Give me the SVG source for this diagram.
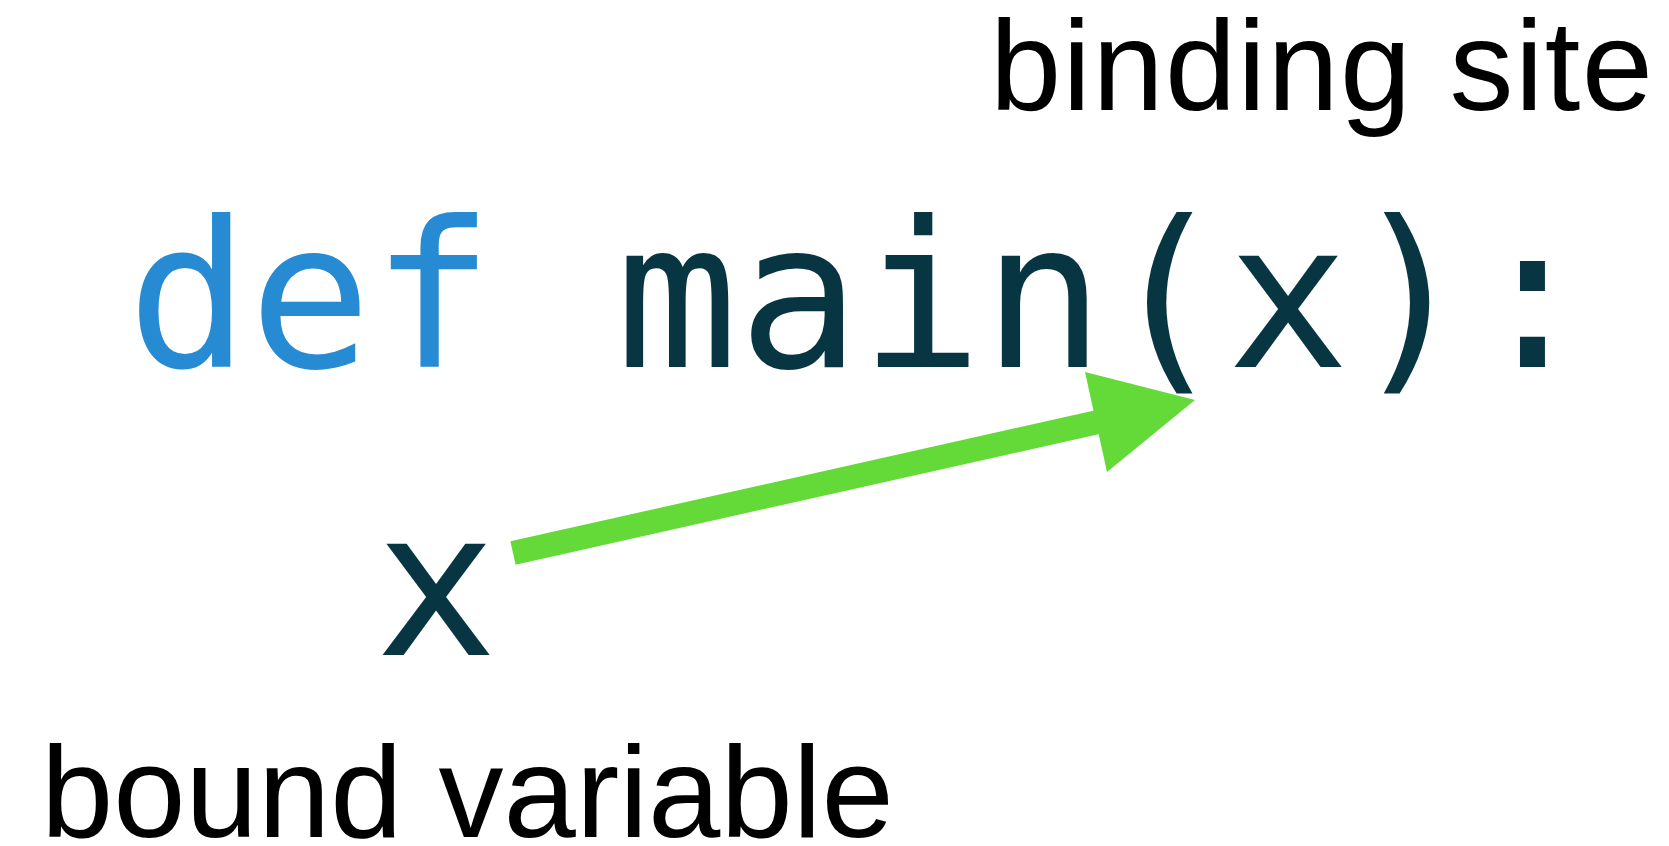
<svg xmlns="http://www.w3.org/2000/svg" width="1669" height="846" viewBox="0 0 1669 846">
<style>
.code{font-family:"DejaVu Sans Mono","Liberation Mono",monospace;font-size:203px;fill:#073642}
.kw{fill:#268BD2}
.label{font-family:"Liberation Sans",Arial,sans-serif;fill:#000}
.arrow{stroke:#63DA37;stroke-width:24;fill:none}
.head{fill:#63DA37}
</style>
<rect width="1669" height="846" fill="#fff"/>
<g id="binding-site-label"><text class="label" x="990" y="110" font-size="128" letter-spacing="1.4">binding site</text></g>
<g id="def-line"><text class="code" x="127" y="367"><tspan class="kw">def</tspan> main(x):</text></g>
<g id="bound-x"><text class="code" x="375" y="655">x</text></g>
<g id="bound-variable-label"><text class="label" x="41" y="837" font-size="130">bound variable</text></g>
<g id="connectors">
<line class="arrow" x1="513" y1="553" x2="1098" y2="422"/>
<polygon class="head" points="1085,372 1195,400 1107,472"/>
</g>
</svg>
